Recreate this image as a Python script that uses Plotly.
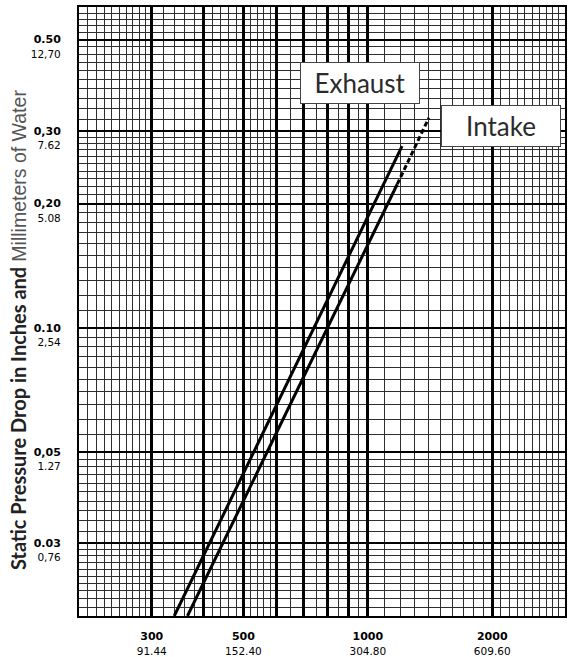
import math
import plotly.graph_objects as go

# ---------------- data ----------------
# airflow (CFM) vs static pressure drop (in. of water)
exhaust_flow = [340, 1210]
exhaust_drop = [0.020, 0.276]
intake_flow = [366, 1178]
intake_drop = [0.020, 0.223]
intake_ext_flow = [1178, 1405]
intake_ext_drop = [0.223, 0.323]

# tick labels
x_tick_vals = [300, 500, 1000, 2000]
x_tick_top = ["300", "500", "1000", "2000"]
x_tick_bottom = ["91.44", "152.40", "304.80", "609.60"]

y_tick_vals = [0.5, 0.3, 0.2, 0.1, 0.05, 0.03]
y_tick_top = ["0.50", "0,30", "0,20", "0.10", "0,05", "0.03"]
y_tick_bottom = ["12,70", "7.62", "5.08", "2,54", "1.27", "0,76"]

y_title_bold = "Static Pressure Drop in Inches and"
y_title_light = "Millimeters of Water"

# graph-paper rulings
x_major = [300, 400, 500, 600, 700, 800, 900, 1000, 2000]
x_minor = ([210, 220, 230, 240, 250, 260, 270, 280, 290]
           + [320, 340, 360, 380, 420, 440, 460, 480, 520, 540, 560, 580]
           + [650, 750, 850, 950]
           + [1100, 1200, 1300, 1400, 1500, 1600, 1700, 1800, 1900]
           + [2100, 2200, 2300, 2400, 2500, 2600, 2700, 2800, 2900])
y_major = [0.03, 0.05, 0.1, 0.2, 0.3, 0.5]
y_minor = ([0.021, 0.022, 0.023, 0.024, 0.025, 0.026, 0.027, 0.028, 0.029]
           + [0.032, 0.034, 0.036, 0.038, 0.040, 0.042, 0.044, 0.046, 0.048]
           + [0.055, 0.060, 0.065, 0.070, 0.075, 0.080, 0.085, 0.090, 0.095]
           + [0.11, 0.12, 0.13, 0.14, 0.15, 0.16, 0.17, 0.18, 0.19]
           + [0.21, 0.22, 0.23, 0.24, 0.25, 0.26, 0.27, 0.28, 0.29]
           + [0.32, 0.34, 0.36, 0.38, 0.40, 0.42, 0.44, 0.46, 0.48]
           + [0.52, 0.54, 0.56, 0.58])

x_range = [200, 3000]
y_range = [0.02, 0.6]


def two_line(top, bottom):
    return "<b>%s</b><br><span style='font-size:10.5px'>%s</span>" % (top, bottom)


x_text = []
for v in x_major:
    if v in x_tick_vals:
        i = x_tick_vals.index(v)
        x_text.append(two_line(x_tick_top[i], x_tick_bottom[i]))
    else:
        x_text.append("")
y_text = [two_line(t, b) for t, b in zip(y_tick_top, y_tick_bottom)]

fig = go.Figure()
fig.add_trace(go.Scatter(x=exhaust_flow, y=exhaust_drop, mode="lines",
                         line=dict(color="black", width=3), name="Exhaust"))
fig.add_trace(go.Scatter(x=intake_flow, y=intake_drop, mode="lines",
                         line=dict(color="black", width=3), name="Intake"))
fig.add_trace(go.Scatter(x=intake_ext_flow, y=intake_ext_drop, mode="lines",
                         line=dict(color="black", width=3, dash="5px,3px"),
                         name="Intake (extrapolated)"))

tickfont = dict(family="DejaVu Sans", size=11, color="black")

title_text = ("<b>%s</b> <span style='font-family:Liberation Sans;"
              "font-size:19.5px;color:#555555'>%s</span>"
              % (y_title_bold, y_title_light))

fig.update_layout(
    width=570, height=657,
    margin=dict(l=79, r=5, t=7, b=41),
    paper_bgcolor="white", plot_bgcolor="white",
    showlegend=False,
    xaxis=dict(
        type="log", range=[math.log10(x_range[0]), math.log10(x_range[1])],
        tickmode="array", tickvals=x_major, ticktext=x_text,
        showgrid=True, gridcolor="black", gridwidth=3,
        ticks="", showline=True, mirror=True, linecolor="black", linewidth=2,
        zeroline=False, tickfont=tickfont, ticklabelstandoff=9,
        automargin=False,
        minor=dict(tickvals=x_minor, showgrid=True, gridcolor="#2e2e2e",
                   gridwidth=1.4, ticks=""),
    ),
    yaxis=dict(
        type="log", range=[math.log10(y_range[0]), math.log10(y_range[1])],
        tickmode="array", tickvals=y_tick_vals, ticktext=y_text,
        showgrid=True, gridcolor="black", gridwidth=2.2,
        ticks="", showline=True, mirror=True, linecolor="black", linewidth=2,
        zeroline=False, tickfont=tickfont, ticklabelstandoff=14,
        ticklabelshift=7, automargin=False,
        minor=dict(tickvals=y_minor, showgrid=True, gridcolor="#2e2e2e",
                   gridwidth=1.4, ticks=""),
    ),
    annotations=[
        dict(text=title_text,
             xref="paper", yref="paper", x=-0.1255, y=0.4696,
             xanchor="center", yanchor="middle", showarrow=False,
             textangle=-90,
             font=dict(family="Lato", size=20, color="#222222")),
        dict(text="Exhaust", xref="paper", yref="paper", x=0.578, y=0.876,
             xanchor="center", yanchor="middle", showarrow=False,
             font=dict(family="Lato", size=26, color="#2b2b2b"),
             bgcolor="white", bordercolor="#444444", borderwidth=1,
             borderpad=0, width=118, height=40),
        dict(text="Intake", xref="paper", yref="paper", x=0.869, y=0.805,
             xanchor="center", yanchor="middle", showarrow=False,
             font=dict(family="Lato", size=26, color="#2b2b2b"),
             bgcolor="white", bordercolor="#444444", borderwidth=1,
             borderpad=0, width=118, height=40),
    ],
)

fig.write_html(
    "out.html",
    config={"displayModeBar": False},
    post_script="document.body.style.margin='0';"
                "document.body.style.overflow='hidden';",
)
